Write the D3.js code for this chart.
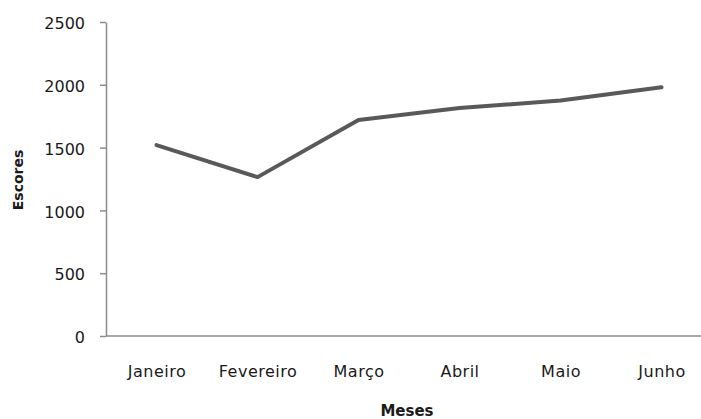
<!DOCTYPE html>
<html>
<head>
<meta charset="utf-8">
<script src="https://cdn.jsdelivr.net/npm/d3@7"></script>
<style>
  html, body { margin: 0; padding: 0; background: #fff; }
  svg { display: block; }
  text { font-family: "DejaVu Sans", Verdana, sans-serif; fill: #1a1a1a; }
</style>
</head>
<body>
<svg id="chart" width="701" height="419"></svg>
<script>
// Monthly scores
const months = ["Janeiro", "Fevereiro", "Março", "Abril", "Maio", "Junho"];
const scores = [1520, 1265, 1720, 1815, 1875, 1980];
const yTicks = [0, 500, 1000, 1500, 2000, 2500];

const svg = d3.select("#chart");
const plot = { left: 106, right: 712, top: 22, bottom: 336 };

const x = d3.scalePoint().domain(months).range([plot.left, plot.right]).padding(0.5);
const y = d3.scaleLinear().domain([0, 2500]).range([plot.bottom, plot.top]);

const fontFamily = "'DejaVu Sans', Verdana, sans-serif";

// Y axis
const yAxis = svg.append("g")
  .attr("transform", `translate(${plot.left},0)`)
  .call(d3.axisLeft(y).tickValues(yTicks).tickFormat(d3.format("d"))
    .tickSize(6).tickPadding(15).tickSizeOuter(0));
yAxis.select(".domain").attr("stroke", "#8c8c8c").attr("stroke-width", 1.5);
yAxis.selectAll(".tick line").attr("stroke", "#8c8c8c").attr("stroke-width", 1.5);
yAxis.selectAll(".tick text")
  .attr("font-size", 16).attr("fill", "#1a1a1a").attr("dy", "0.42em")
  .style("font-family", fontFamily);

// X axis
const xAxis = svg.append("g")
  .attr("transform", `translate(0,${plot.bottom})`)
  .call(d3.axisBottom(x).tickSize(0).tickPadding(30).tickSizeOuter(0));
xAxis.select(".domain").attr("d", `M${plot.left},0H701`).attr("stroke", "#8c8c8c").attr("stroke-width", 1.5);
xAxis.selectAll(".tick text")
  .attr("font-size", 16).attr("fill", "#1a1a1a").attr("letter-spacing", 0.5)
  .style("font-family", fontFamily);

// Series line
svg.append("path")
  .datum(scores)
  .attr("fill", "none")
  .attr("stroke", "#595959")
  .attr("stroke-width", 4)
  .attr("stroke-linejoin", "round")
  .attr("stroke-linecap", "round")
  .attr("d", d3.line().x((d, i) => x(months[i])).y(d => y(d)));

// Axis titles
svg.append("text")
  .attr("x", 407).attr("y", 416)
  .attr("text-anchor", "middle")
  .attr("font-size", 15).attr("font-weight", "bold")
  .text("Meses");

svg.append("text")
  .attr("transform", "translate(23,180) rotate(-90)")
  .attr("text-anchor", "middle")
  .attr("font-size", 14).attr("font-weight", "bold")
  .text("Escores");
</script>
</body>
</html>
